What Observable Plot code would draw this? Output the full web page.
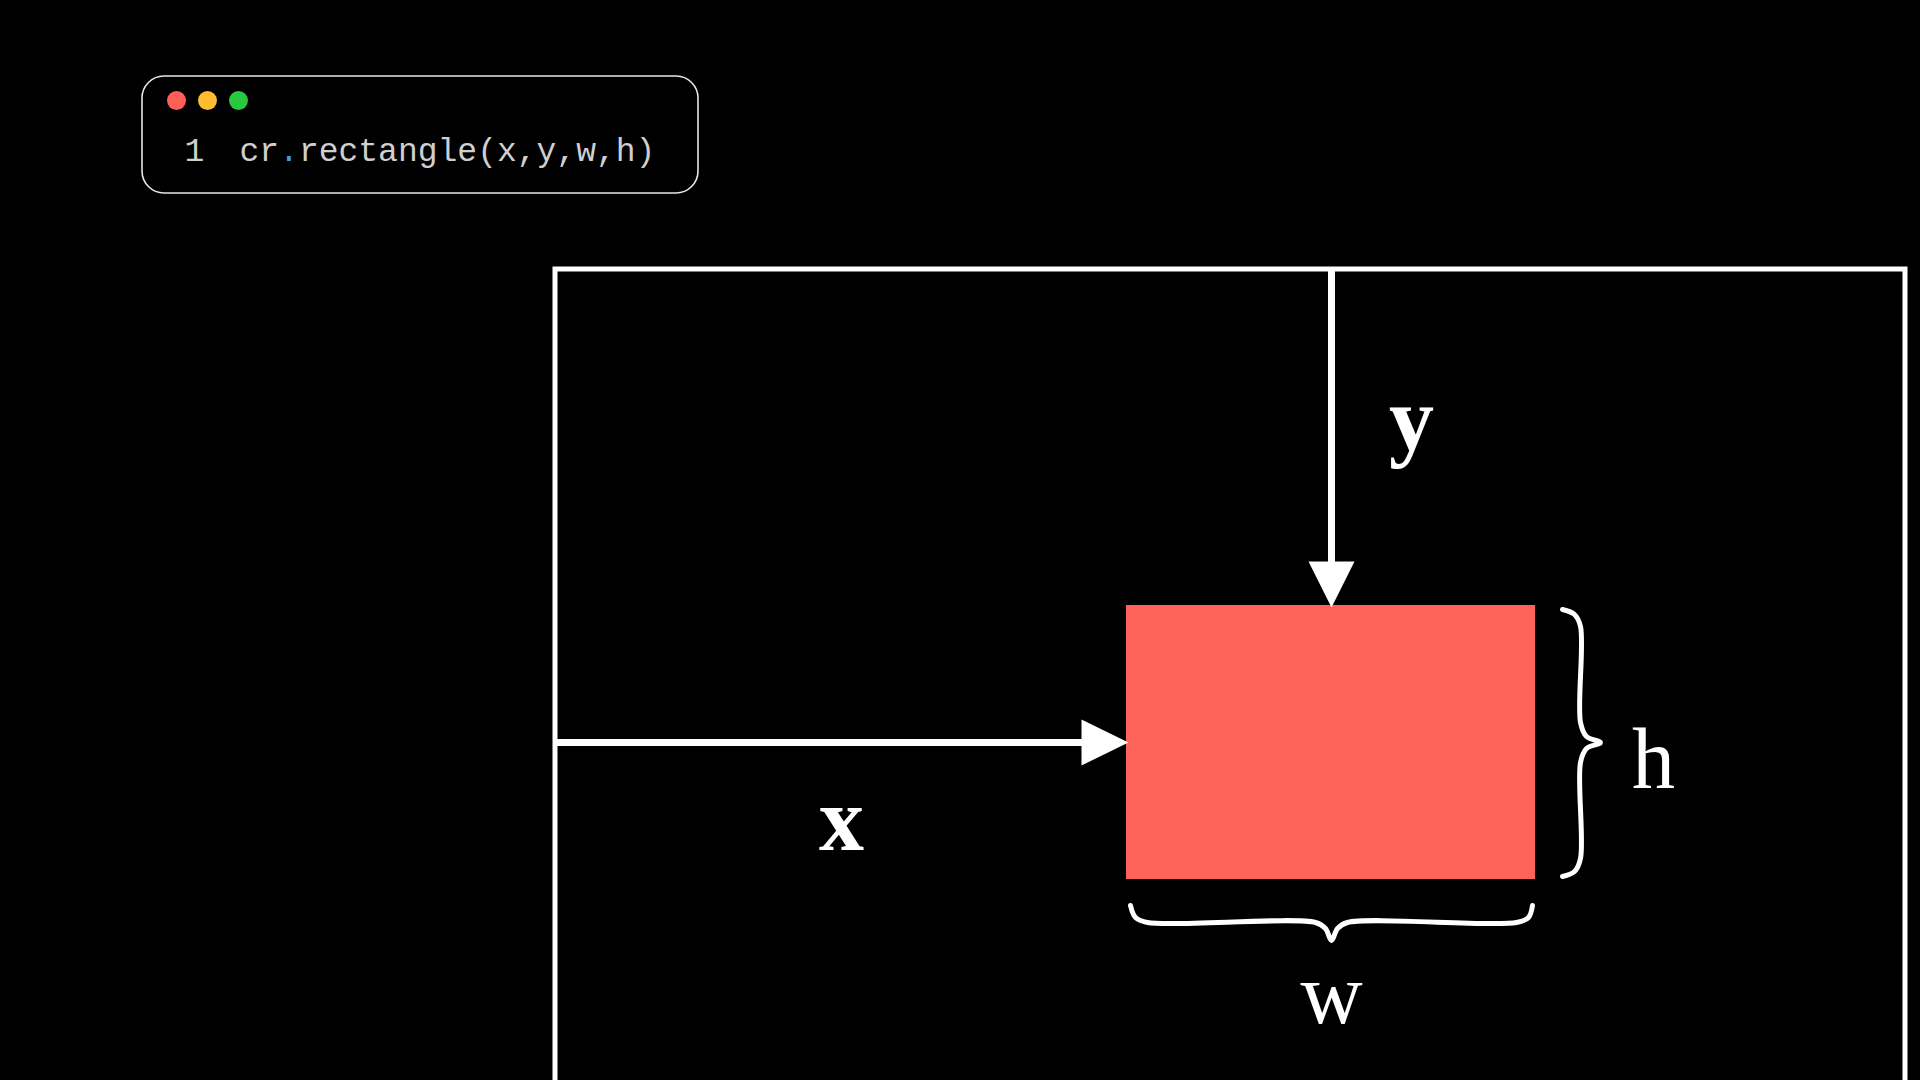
<!DOCTYPE HTML>
<html lang="en-US">
  <head>
    <meta charset="UTF-8">
    <title>cr.rectangle(x,y,w,h)</title>
    <style>
      html, body { margin: 0; padding: 0; background: #000; overflow: hidden; }
      #chart svg { display: block; }
    </style>
  </head>
  <body>
    <div id="chart"></div>
    <script src="https://cdn.jsdelivr.net/npm/d3@7"></script>
    <script src="https://cdn.jsdelivr.net/npm/@observablehq/plot@0.6"></script>
    <script type="module">
      // scene in pixel units (1920 x 1080, y down)
      const codeBox = [{x1: 142, y1: 76, x2: 698, y2: 193}];
      const dots = [
        {x: 176, y: 100, color: '#ff5f57'},
        {x: 207, y: 100, color: '#febc2e'},
        {x: 238, y: 100, color: '#28c840'}
      ];
      const codeParts = [
        {x: 184, y: 150, text: '1', color: '#cfcfcf'},
        {x: 239, y: 150, text: 'cr', color: '#cfcfcf'},
        {x: 278.6, y: 150, text: '.', color: '#3aa0d8'},
        {x: 298.4, y: 150, text: 'rectangle(x,y,w,h)', color: '#cfcfcf'}
      ];
      const canvasFrame = [{x1: 555, y1: 269, x2: 1905, y2: 1086}];
      const redRect = [{x1: 1126, y1: 605, x2: 1535, y2: 879}];
      const shafts = [
        {x1: 1331, y1: 269, x2: 1331, y2: 565},
        {x1: 555, y1: 742, x2: 1086, y2: 742}
      ];
      const heads = [
        {id: 'y', x: 1308, y: 561}, {id: 'y', x: 1354, y: 561}, {id: 'y', x: 1331, y: 607},
        {id: 'x', x: 1081, y: 719}, {id: 'x', x: 1081, y: 765}, {id: 'x', x: 1128, y: 742}
      ];
      const braceH = [
        [1562, 609], [1574, 614], [1580, 626], [1580, 722], [1586, 736], [1600, 742],
        [1586, 748], [1580, 762], [1580, 858], [1574, 871], [1562, 876]
      ];
      const braceW = [
        [1130, 905], [1135, 917], [1147, 922], [1315, 922], [1325, 928], [1331, 940],
        [1337, 928], [1347, 922], [1516, 922], [1528, 917], [1532, 905]
      ];
      const boldLabels = [
        {x: 1411, y: 421, text: 'y'},
        {x: 841, y: 821, text: 'x'}
      ];
      const plainLabels = [
        {x: 1653, y: 760, text: 'h'},
        {x: 1331, y: 995, text: 'w'}
      ];

      const svg = Plot.plot({
        width: 1920,
        height: 1080,
        margin: 0,
        style: {background: '#000'},
        x: {domain: [0, 1920], axis: null},
        y: {domain: [0, 1080], reverse: true, axis: null},
        marks: [
          Plot.rect(codeBox, {x1: 'x1', y1: 'y1', x2: 'x2', y2: 'y2', fill: 'none', stroke: '#e6e6e6', strokeWidth: 1.6, rx: 22}),
          Plot.dot(dots, {x: 'x', y: 'y', r: 9.5, fill: d => d.color}),
          Plot.text(codeParts, {x: 'x', y: 'y', text: 'text', fill: d => d.color, textAnchor: 'start', fontSize: 33, fontFamily: 'Liberation Mono'}),
          Plot.rect(canvasFrame, {x1: 'x1', y1: 'y1', x2: 'x2', y2: 'y2', fill: 'none', stroke: '#fff', strokeWidth: 5}),
          Plot.rect(redRect, {x1: 'x1', y1: 'y1', x2: 'x2', y2: 'y2', fill: '#fe6359'}),
          Plot.link(shafts, {x1: 'x1', y1: 'y1', x2: 'x2', y2: 'y2', stroke: '#fff', strokeWidth: 7}),
          Plot.line(heads, {x: 'x', y: 'y', z: 'id', fill: '#fff', stroke: 'none'}),
          Plot.line(braceH, {x: d => d[0], y: d => d[1], stroke: '#fff', strokeWidth: 5, curve: 'catmull-rom'}),
          Plot.line(braceW, {x: d => d[0], y: d => d[1], stroke: '#fff', strokeWidth: 5, curve: 'catmull-rom'}),
          Plot.text(boldLabels, {x: 'x', y: 'y', text: 'text', fill: '#fff', fontSize: 90, fontWeight: 'bold', fontFamily: 'Liberation Serif'}),
          Plot.text(plainLabels, {x: 'x', y: 'y', text: 'text', fill: '#fff', fontSize: 86, fontFamily: 'Liberation Serif'})
        ]
      });
      document.getElementById('chart').append(svg);
    </script>
  </body>
</html>
